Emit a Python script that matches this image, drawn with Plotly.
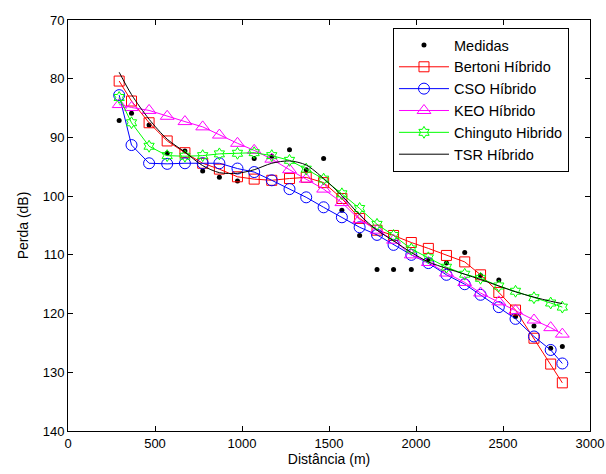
import plotly.graph_objects as go

# Distance positions (m)
distancia = [294, 365, 466, 570, 672, 774, 870, 974, 1070, 1171, 1273, 1369, 1469,
             1574, 1676, 1776, 1871, 1973, 2071, 2175, 2280, 2371, 2476, 2572,
             2678, 2774, 2841]

medidas = [87.1, 85.9, 87.9, 92.7, 92.3, 95.7, 96.8, 97.4, 93.6, 93.2, 92.1, 95.5, 93.6,
           102.4, 106.7, 112.5, 112.5, 112.5, 110.8, 111.4, 109.6, 113.5, 114.3, 120.5,
           122.1, 125.9, 125.6]

bertoni = [80.4, 83.8, 87.5, 90.6, 92.6, 94.4, 95.4, 96.7, 97.1, 97.3, 97.0, 96.8, 97.7,
           100.4, 103.8, 105.8, 106.7, 107.9, 108.9, 110.1, 111.2, 113.4, 116.4, 119.4,
           124.2, 128.6, 131.8]

cso = [82.8, 91.3, 94.4, 94.5, 94.4, 94.4, 94.4, 95.3, 95.9, 97.3, 98.8, 100.2, 101.9,
       103.6, 105.3, 106.6, 108.3, 110.0, 111.4, 113.4, 115.0, 116.8, 118.9, 120.9,
       123.9, 126.2, 128.5]

keo = [84.4, 84.9, 85.4, 86.4, 87.3, 88.2, 89.6, 91.0, 92.2, 93.7, 95.5, 97.1, 98.8,
       101.1, 104.0, 105.8, 107.5, 110.0, 111.3, 113.1, 114.7, 116.5, 118.0, 119.5,
       121.1, 122.4, 123.5]

chinguto = [83.2, 87.5, 91.5, 93.1, 93.2, 93.1, 92.8, 92.7, 92.6, 93.1, 93.9, 95.4, 97.1,
            99.6, 102.1, 104.8, 106.7, 109.0, 110.5, 112.1, 113.3, 114.0, 115.3, 116.2,
            117.3, 118.2, 118.9]

tsr = [78.9, 82.7, 86.9, 90.3, 92.5, 94.8, 96.0, 96.1, 95.5, 94.4, 94.0, 94.7, 97.0,
       99.9, 103.2, 105.8, 107.6, 109.6, 111.2, 112.3, 113.3, 114.2, 115.3, 116.3,
       117.2, 117.9, 118.3]

x_ticks = [0, 500, 1000, 1500, 2000, 2500, 3000]
y_ticks = [70, 80, 90, 100, 110, 120, 130, 140]

FONT = "Liberation Sans, Arial, sans-serif"

fig = go.Figure()

fig.add_trace(go.Scatter(
    x=distancia, y=medidas, mode="markers", name="Medidas", legendgroup="a",
    marker=dict(symbol="circle", size=5, color="black")))

fig.add_trace(go.Scatter(
    x=distancia, y=bertoni, mode="lines+markers", name="Bertoni Híbrido", legendgroup="b",
    line=dict(color="#FF0000", width=1),
    marker=dict(symbol="square-open", size=10, color="#FF0000", line=dict(width=1))))

fig.add_trace(go.Scatter(
    x=distancia, y=cso, mode="lines+markers", name="CSO Híbrido", legendgroup="c",
    line=dict(color="#0000FF", width=1),
    marker=dict(symbol="circle-open", size=11, color="#0000FF", line=dict(width=1))))

fig.add_trace(go.Scatter(
    x=distancia, y=keo, mode="lines+markers", name="KEO Híbrido", legendgroup="d",
    line=dict(color="#FF00FF", width=1),
    marker=dict(symbol="triangle-up-open", size=12, color="#FF00FF", line=dict(width=1))))

fig.add_trace(go.Scatter(
    x=distancia, y=chinguto, mode="lines+markers", name="Chinguto Hibrido", legendgroup="e",
    line=dict(color="#00FF00", width=1),
    marker=dict(symbol="hexagram-open", size=9, color="#00FF00", line=dict(width=1))))

fig.add_trace(go.Scatter(
    x=distancia, y=tsr, mode="lines", name="TSR Híbrido", legendgroup="f",
    line=dict(color="black", width=1, shape="spline", smoothing=0.8)))

axis_common = dict(
    showgrid=False, zeroline=False, showline=True, linecolor="black", linewidth=1,
    mirror="allticks", ticks="inside", ticklen=5, tickcolor="black", automargin=False,
    tickfont=dict(family=FONT, size=13, color="black"),
)

fig.update_layout(
    width=606, height=474,
    margin=dict(l=68, r=16, t=20, b=43),
    paper_bgcolor="white", plot_bgcolor="white",
    font=dict(family=FONT, size=13, color="black"),
    xaxis=dict(range=[0, 3000], tickvals=x_ticks, ticktext=[str(v) for v in x_ticks],
               title=dict(text="Distância (m)", font=dict(family=FONT, size=14), standoff=4),
               **axis_common),
    yaxis=dict(range=[140, 70], tickvals=y_ticks, ticktext=[str(v) for v in y_ticks],
               title=dict(text="Perda (dB)", font=dict(family=FONT, size=14), standoff=10),
               **axis_common),
    legend=dict(x=0.6226, y=0.9805, xanchor="left", yanchor="top",
                bgcolor="white", bordercolor="black", borderwidth=1,
                font=dict(family=FONT, size=14.5, color="black"),
                tracegroupgap=0, itemwidth=50),
    showlegend=True,
)

# Remove the default page margin so the 606x474 figure fills the window exactly.
fig.write_html(
    "out.html",
    config={"displayModeBar": False},
    post_script="document.body.style.margin='0';document.body.style.overflow='hidden';",
)
